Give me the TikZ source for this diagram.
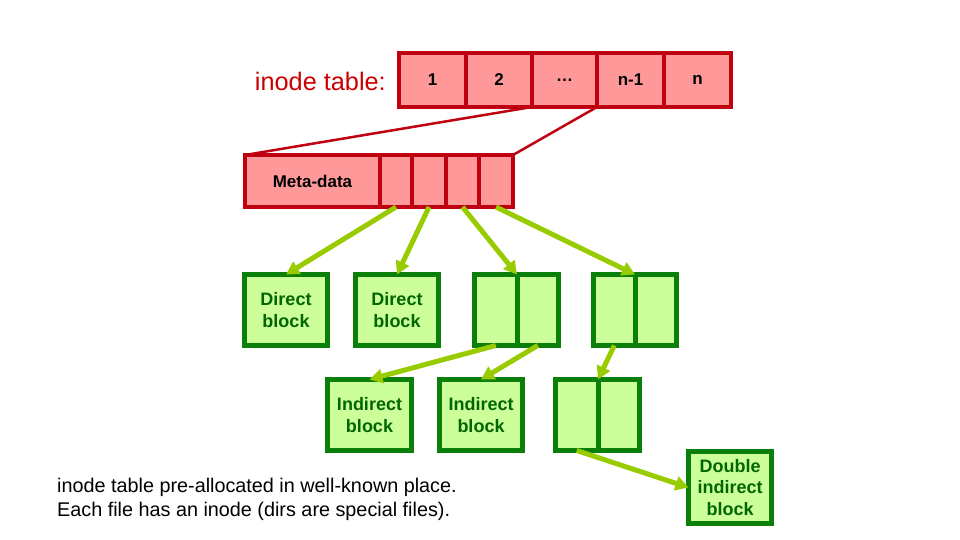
\documentclass[tikz,border=0pt]{standalone}
\usepackage{fontspec}
\setmainfont{Liberation Sans}
\usetikzlibrary{arrows.meta}
\definecolor{pinkfill}{HTML}{FF9999}
\definecolor{redborder}{HTML}{BE0010}
\definecolor{redtext}{HTML}{CC0000}
\definecolor{greenfill}{HTML}{CCFF99}
\definecolor{greenborder}{HTML}{0A7F0A}
\definecolor{greentext}{HTML}{006600}
\definecolor{arrowgreen}{HTML}{99CC00}
\tikzset{
  rcell/.style={draw=redborder, fill=pinkfill, line width=4pt, inner sep=0pt, outer sep=0pt, anchor=north west,
    font=\fontsize{17}{20}\selectfont\bfseries, text=black},
  gcell/.style={draw=greenborder, fill=greenfill, line width=5pt, inner sep=0pt, outer sep=0pt, anchor=north west,
    align=center, font=\fontsize{18}{21.5}\selectfont\bfseries, text=greentext},
  link/.style={draw=redborder, line width=2.5pt},
  ptr/.style={draw=arrowgreen, line width=5pt, -{Triangle[length=13pt,width=14pt]}},
}
\begin{document}
\begin{tikzpicture}[x=1pt,y=-1pt]
\useasboundingbox (0,0) rectangle (960,540);
% inode table
\node[anchor=east, text=redtext, font=\fontsize{25.3}{28}\selectfont, inner sep=0pt] (lbl) at (386,81) {inode table:};
\node[rcell, minimum width=67pt, minimum height=54pt] (i1) at (399,53) {1};
\node[rcell, minimum width=66pt, minimum height=54pt] (i2) at (466,53) {2};
\node[rcell, minimum width=65pt, minimum height=54pt] (i3) at (532,53) {…};
\node[rcell, minimum width=67pt, minimum height=54pt] (i4) at (597,53) {n-1};
\node[rcell, minimum width=67pt, minimum height=54pt] (i5) at (664,53) {n};
% inode
\node[rcell, minimum width=135pt, minimum height=52pt] (meta) at (245,155) {Meta-data};
\node[rcell, minimum width=32pt, minimum height=52pt] (c1) at (380,155) {};
\node[rcell, minimum width=34pt, minimum height=52pt] (c2) at (412,155) {};
\node[rcell, minimum width=33pt, minimum height=52pt] (c3) at (446,155) {};
\node[rcell, minimum width=34pt, minimum height=52pt] (c4) at (479,155) {};
\draw[link] (i3.south west) -- (meta.north west);
\draw[link] (i3.south east) -- (c4.north east);
% row 1
\node[gcell, minimum width=83pt, minimum height=71pt] (d1) at (244.5,274.5) {Direct\\block};
\node[gcell, minimum width=83pt, minimum height=71pt] (d2) at (355.5,274.5) {Direct\\block};
\node[gcell, minimum width=42.5pt, minimum height=71pt] (b3a) at (474.5,274.5) {};
\node[gcell, minimum width=41.5pt, minimum height=71pt] (b3b) at (517,274.5) {};
\node[gcell, minimum width=41.5pt, minimum height=71pt] (b4a) at (593.5,274.5) {};
\node[gcell, minimum width=41.5pt, minimum height=71pt] (b4b) at (635,274.5) {};
% row 2
\node[gcell, minimum width=84pt, minimum height=71pt] (n1) at (327.5,379.5) {Indirect\\block};
\node[gcell, minimum width=83pt, minimum height=71pt] (n2) at (439.5,379.5) {Indirect\\block};
\node[gcell, minimum width=42.5pt, minimum height=71pt] (pa) at (555.5,379.5) {};
\node[gcell, minimum width=41.5pt, minimum height=71pt] (pb) at (598,379.5) {};
\node[gcell, minimum width=83pt, minimum height=72pt] (dbl) at (688.5,451.5) {Double\\indirect\\block};
% pointers
\draw[ptr] (c1.south) -- (d1.north);
\draw[ptr] (c2.south) -- (d2.north);
\draw[ptr] (c3.south) -- (b3a.north east);
\draw[ptr] (c4.south) -- (b4a.north east);
\draw[ptr] (b3a.south) -- (n1.north);
\draw[ptr] (b3b.south) -- (n2.north);
\draw[ptr] (b4a.south) -- (pa.north east);
\draw[ptr] (pa.south) -- (dbl.west);
% caption
\node[anchor=base west, align=left, font=\fontsize{19.8}{24}\selectfont, inner sep=0pt] (cap) at (57,516)
  {inode table pre-allocated in well-known place.\\Each file has an inode (dirs are special files).};
\end{tikzpicture}
\end{document}
